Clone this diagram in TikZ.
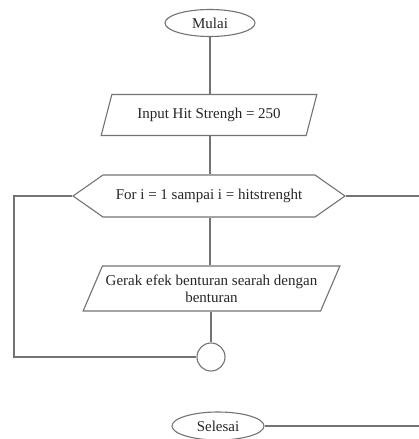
\documentclass[tikz,border=0pt]{standalone}
\usepackage{fontspec}
\setmainfont{Liberation Serif}
\usetikzlibrary{shapes.geometric,shapes.symbols}

\begin{document}
\begin{tikzpicture}[x=1pt,y=-1pt,
    line/.style={draw=black!55, line width=1.1pt},
    box/.style={line, inner sep=0pt, text=black!85, font=\fontsize{15}{17}\selectfont},
    terminal/.style={box, ellipse},
    io/.style={box, trapezium, trapezium stretches=true},
    loopbox/.style={box, signal, signal to=west and east, signal pointer angle=70}]

    % Fix the frame of the picture
    \useasboundingbox (0,0) rectangle (419,439);

    % Place the steps of the flow
    \node (mulai) at (210,23) [terminal, minimum width=90pt, minimum height=27pt] {Mulai};
    \node (input) at (209,115) [io, trapezium left angle=60, trapezium right angle=120,
        minimum width=216pt, minimum height=41pt] {Input Hit Strengh = 250};
    \node (for) at (209,196) [loopbox, minimum width=272pt, minimum height=42pt] {For i = 1 sampai i = hitstrenght};
    \node (gerak) at (211.5,288.5) [io, trapezium left angle=56, trapezium right angle=124,
        minimum width=257pt, minimum height=45pt, align=center] {Gerak efek benturan searah dengan\\benturan};
    \node (ujung) at (211,357) [box, circle, minimum size=28pt] {};
    \node (selesai) at (218,426) [terminal, minimum width=92pt, minimum height=28pt] {Selesai};

    % Free ends of the lines
    \coordinate (kiri) at (14,196);
    \coordinate (kanan) at (419,196);
    \coordinate (akhir) at (419,426);

    % Draw the lines between the steps
    \draw [line] (mulai.south) -- (mulai.south |- input.north);
    \draw [line] (input.south -| mulai.south) -- (mulai.south |- for.north);
    \draw [line] (for.south -| mulai.south) -- (mulai.south |- gerak.north);
    \draw [line] (gerak.south -| ujung.north) -- (ujung.north);
    \draw [line] (for.west) -- (kiri) |- (ujung.west);
    \draw [line] (for.east) -- (kanan);
    \draw [line] (selesai.east) -- (akhir);

\end{tikzpicture}
\end{document}
